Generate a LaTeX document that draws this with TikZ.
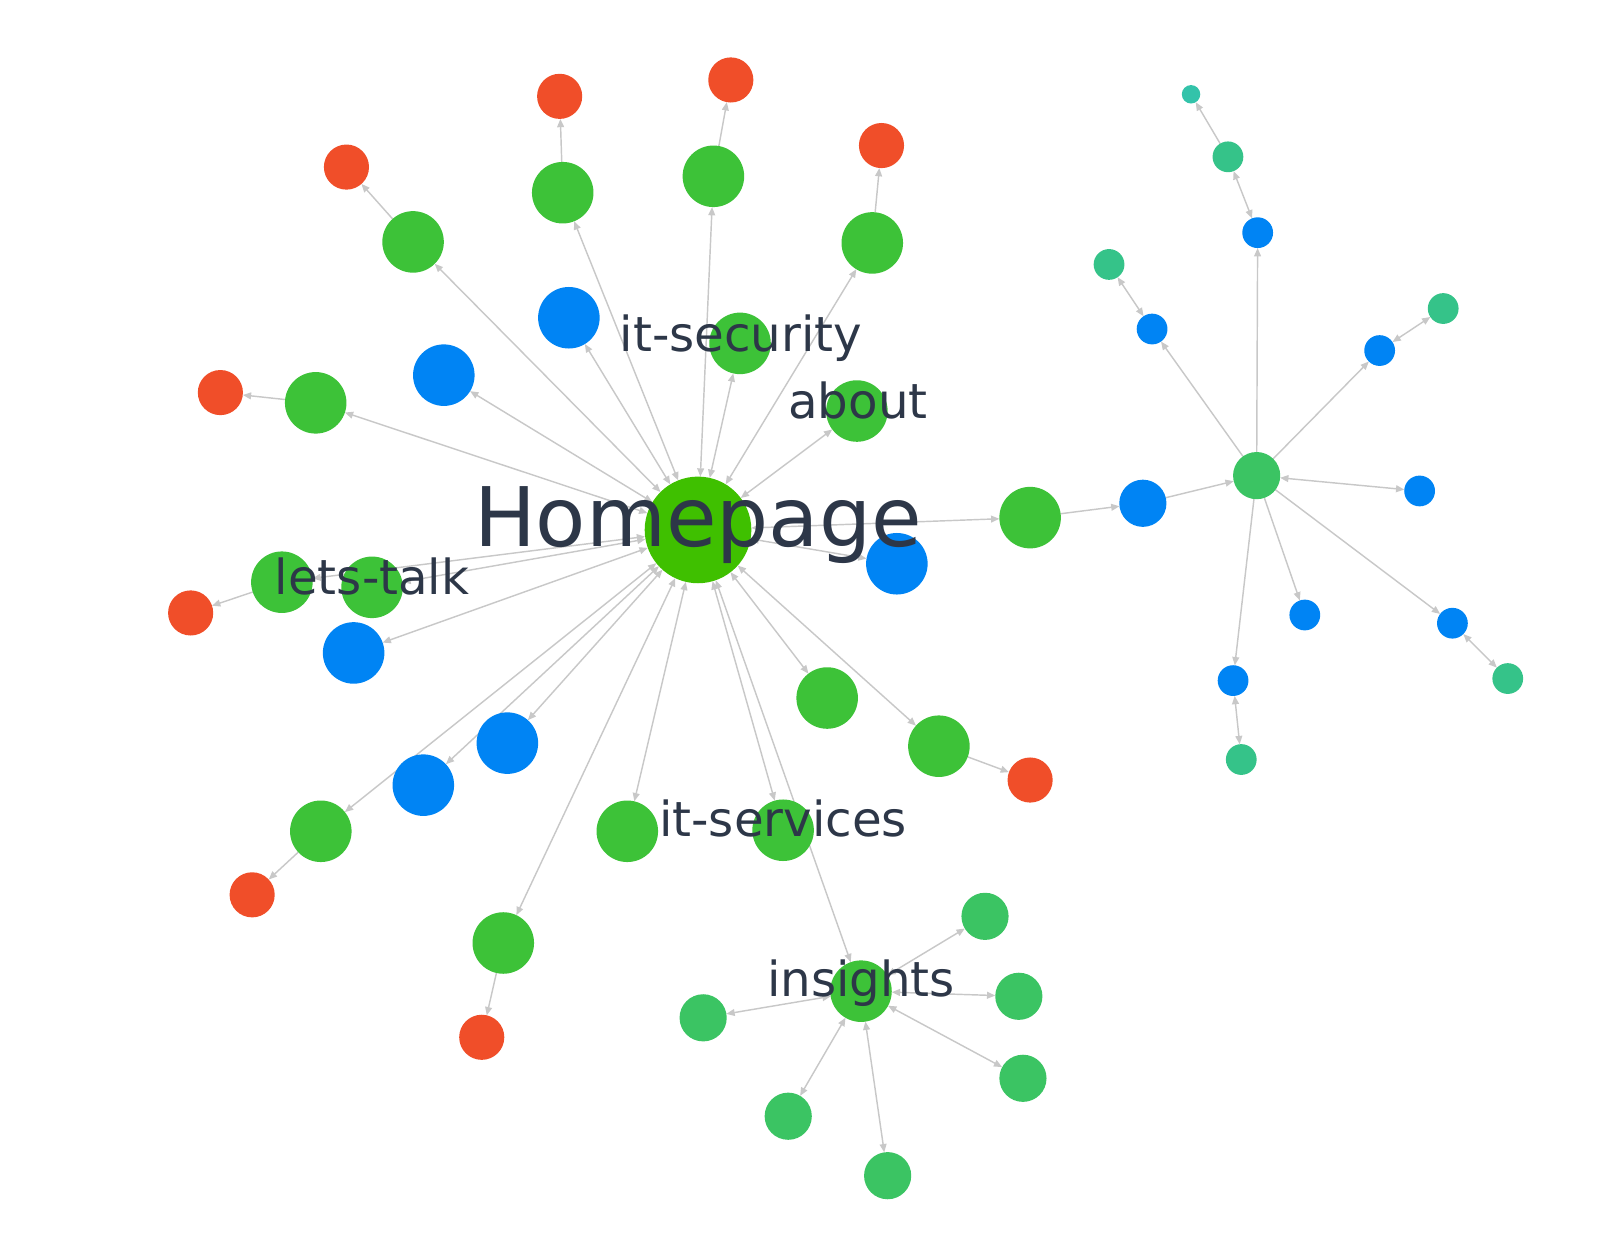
\documentclass[tikz,border=0pt]{standalone}
\usepackage{fontspec}
\setmainfont{DejaVu Sans}
\usetikzlibrary{arrows.meta,backgrounds}
\definecolor{hpgreen}{HTML}{3FC000}
\definecolor{pagegreen}{HTML}{3DC238}
\definecolor{linkred}{HTML}{F04E29}
\definecolor{fileblue}{HTML}{0084F4}
\definecolor{subgreen}{HTML}{3BC463}
\definecolor{leafteal}{HTML}{35C389}
\definecolor{tinyteal}{HTML}{33C3AA}
\definecolor{edgegray}{HTML}{C8C8C8}
\definecolor{labelnavy}{HTML}{2D3748}
\begin{document}
\begin{tikzpicture}[x=.01cm, y=-.01cm, >={Triangle[length=2.3pt,width=1.9pt]}, line cap=round,
		lnk/.style={draw=edgegray, line width=.4pt},
		dot/.style={circle, inner sep=0pt, outer sep=0pt},
		gnode/.style={dot, fill=pagegreen, minimum size=.6cm},
		rnode/.style={dot, fill=linkred, minimum size=.44cm},
		bnode/.style={dot, fill=fileblue, minimum size=.6cm},
		snode/.style={dot, fill=subgreen, minimum size=.46cm},
		tnode/.style={dot, fill=leafteal, minimum size=.3cm},
		lbl/.style={anchor=base, inner sep=0pt, text=labelnavy, font=\fontsize{13.4}{16}\selectfont}]
		\useasboundingbox (0,0) rectangle (1561,1218);
		% main nodes
		\node[dot, fill=hpgreen, minimum size=1.04cm] (home) at (681,517) {};
		\foreach \n/\x/\y in {ga/403/236, gb/549/188, gc/696/172, gd/851/237, ge/308/393, itsec/722/335, about/836/401, gl/275/568, letstalk/363/573, gll/313/811, glb/491/920, gbm/612/811, itserv/764/810, insights/840/967, gbr/807/681, gbrr/916/728, gr/1005/505}
			\node[gnode] (\n) at (\x,\y) {};
		\foreach \n/\x/\y in {ra/338/163, rb/546/94, rc/713/78, rd/860/142, re/215/383, rl/186/598, rll/246/873, rlb/470/1012, rbrr/1005/761}
			\node[rnode] (\n) at (\x,\y) {};
		\foreach \n/\x/\y in {ba/555/310, bb/433/366, bl/345/637, bll/413/766, blm/495/725, bright/875/550}
			\node[bnode] (\n) at (\x,\y) {};
		% insights cluster
		\foreach \n/\x/\y in {s1/961/894, s2/994/972, s3/998/1052, s4/866/1147, s5/769/1089, s6/686/993}
			\node[snode] (\n) at (\x,\y) {};
		% right cluster
		\node[bnode, minimum size=.46cm] (b1) at (1115,491) {};
		\node[snode] (c) at (1226,464) {};
		\foreach \n/\x/\y in {btop/1227/227, bul/1124/321, bur/1346/342, br/1385/479, blr/1273/600, brr/1417/608, bbot/1203/664}
			\node[bnode, minimum size=.3cm] (\n) at (\x,\y) {};
		\foreach \n/\x/\y in {t1/1198/153, t2/1082/258, t3/1408/301, t4/1471/662, t5/1211/741}
			\node[tnode] (\n) at (\x,\y) {};
		\node[dot, fill=tinyteal, minimum size=.18cm] (tiny) at (1162,92) {};
		% links
		\begin{scope}[on background layer]
			\foreach \n in {ga, gb, gc, gd, ba, bb, ge, itsec, about, gl, letstalk, bl, gll, bll, blm, glb, gbm, itserv, insights, gbr, gbrr, bright, gr}
				\draw[lnk,<->] (home)--(\n);
			\foreach \a/\b in {ga/ra, gb/rb, gc/rc, gd/rd, ge/re, gl/rl, gll/rll, glb/rlb, gbrr/rbrr, gr/b1, b1/c, c/btop, c/bul, c/bur, c/blr, c/bbot, c/brr, t1/tiny}
				\draw[lnk,->] (\a)--(\b);
			\foreach \a/\b in {c/br, btop/t1, bul/t2, bur/t3, brr/t4, bbot/t5, insights/s1, insights/s2, insights/s3, insights/s4, insights/s5, insights/s6}
				\draw[lnk,<->] (\a)--(\b);
		\end{scope}
		% labels
		\node[lbl, font=\fontsize{22.8}{27}\selectfont] (homelbl) at (681,533) {Homepage};
		\node[lbl] (itseclbl) at (723,343) {it-security};
		\node[lbl] (aboutlbl) at (837,408) {about};
		\node[lbl] (letstalklbl) at (363,580) {lets-talk};
		\node[lbl] (itservlbl) at (764,816) {it-services};
		\node[lbl] (insightslbl) at (840,972) {insights};
\end{tikzpicture}
\end{document}
